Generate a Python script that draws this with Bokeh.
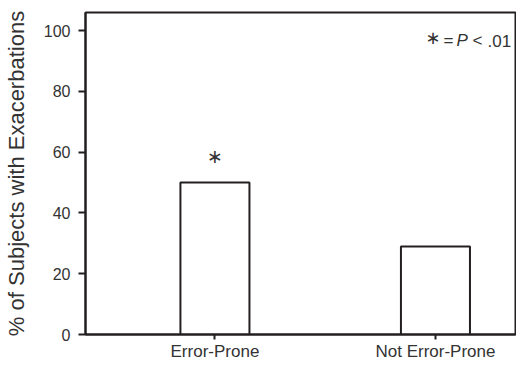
from bokeh.plotting import figure
from bokeh.models import Range1d, FixedTicker, Label, ColumnDataSource
from bokeh.embed import file_html
from bokeh.resources import INLINE
from bokeh.core.properties import value

# data
categories = ["Error-Prone", "Not Error-Prone"]
positions = [1, 2]
percent = [50, 29]
y_ticks = [0, 20, 40, 60, 80, 100]
signif = ["\u2217", ""]

LINE = "#231f20"
TEXT = "#333333"
FONT = "Liberation Sans"

src = ColumnDataSource(dict(x=positions, top=percent, star=signif, cat=categories))

p = figure(width=512, height=361, output_backend="svg", toolbar_location=None,
           x_range=Range1d(0.413, 2.363), y_range=Range1d(0, 106),
           min_border_left=81, min_border_right=1, min_border_top=12, min_border_bottom=27,
           frame_width=430, frame_height=322)

p.vbar(x="x", top="top", bottom=0, width=0.313, source=src,
       fill_color="white", line_color=LINE, line_width=2)

p.text(x="x", y="top", text="star", source=src, text_align="center",
       text_baseline="alphabetic", y_offset=-27, text_font=value("DejaVu Sans"),
       text_font_size="19px", text_color=TEXT)

p.grid.visible = False
p.background_fill_color = "white"
p.border_fill_color = "white"
p.outline_line_color = LINE
p.outline_line_width = 2

xa = p.xaxis[0]
xa.ticker = FixedTicker(ticks=positions)
xa.major_label_overrides = {pos: c for pos, c in zip(positions, categories)}
xa.major_tick_out = 5
xa.major_tick_in = 0
xa.minor_tick_line_color = None
xa.major_tick_line_width = 2
xa.major_tick_line_color = LINE
xa.axis_line_width = 2
xa.axis_line_color = LINE
xa.major_label_text_font = FONT
xa.major_label_text_font_size = "17px"
xa.major_label_text_color = TEXT
xa.major_label_standoff = 2

ya = p.yaxis[0]
ya.ticker = FixedTicker(ticks=y_ticks)
ya.major_tick_out = 7
ya.major_tick_in = 0
ya.minor_tick_line_color = None
ya.major_tick_line_width = 2
ya.major_tick_line_color = LINE
ya.axis_line_width = 2
ya.axis_line_color = LINE
ya.major_label_text_font = FONT
ya.major_label_text_font_size = "16px"
ya.major_label_text_color = TEXT
ya.major_label_standoff = 8
ya.axis_label = "% of Subjects with Exacerbations"
ya.axis_label_text_font = FONT
ya.axis_label_text_font_size = "22px"
ya.axis_label_text_font_style = "normal"
ya.axis_label_text_color = TEXT
ya.axis_label_standoff = 12

# significance note
def note(text, dx, dy=-28, font=FONT, style="normal", size="17px"):
    p.add_layout(Label(x=2.363, y=106, x_units="data", y_units="data",
                       x_offset=dx, y_offset=dy, text=text, text_font=font,
                       text_font_size=size, text_font_style=style,
                       text_color=TEXT, text_baseline="alphabetic", text_align="left"))

note("\u2217", -90, dy=-25, font="DejaVu Sans", size="18px")
note("=", -72)
note("P", -59, style="italic")
note("<", -43)
note(".01", -28)

open("out.html", "w").write(file_html(p, INLINE))
